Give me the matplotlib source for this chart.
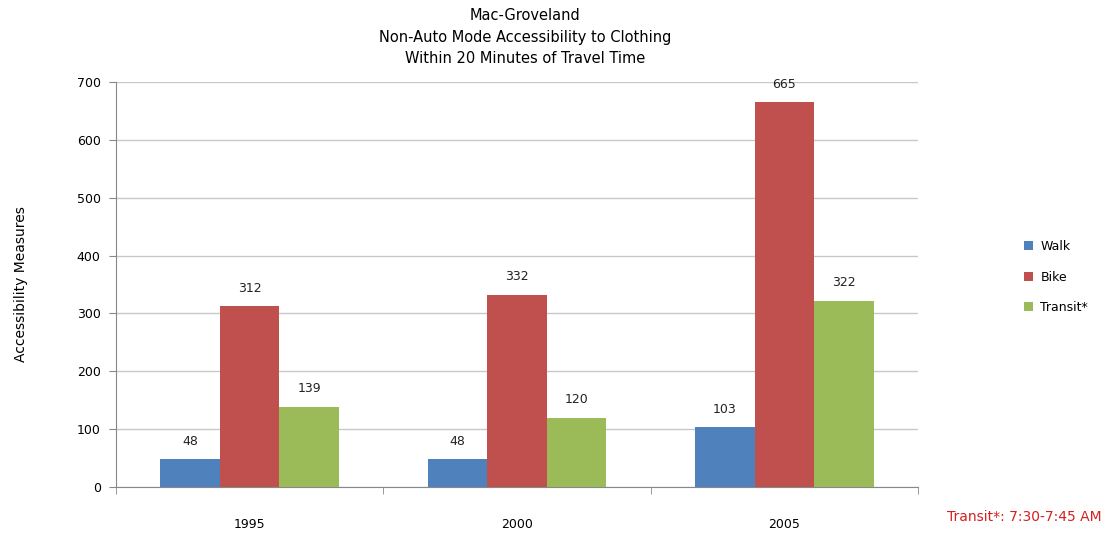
import numpy as np
import matplotlib.pyplot as plt

years = ["1995", "2000", "2005"]
walk = [48, 48, 103]
bike = [312, 332, 665]
transit = [139, 120, 322]

series = [("Walk", walk, "#4F81BD"), ("Bike", bike, "#C0504D"), ("Transit*", transit, "#9BBB59")]

fig = plt.figure(figsize=(11.07, 5.33), dpi=100)
ax = fig.add_axes([0.1048, 0.0863, 0.7245, 0.7598])

x = np.arange(len(years))
w = 0.223
for i, (name, vals, col) in enumerate(series):
    pos = x + (i - 1) * w
    ax.bar(pos, vals, w, color=col, label=name, zorder=3)
    for p, v in zip(pos, vals):
        ax.text(p, v + 20, str(v), ha="center", va="bottom", fontsize=9, color="#222222")

ax.set_xlim(-0.5, 2.5)
ax.set_ylim(0, 700)
ax.set_yticks(range(0, 701, 100))
ax.yaxis.grid(True, color="#c8c8c8", linewidth=1, zorder=0)
ax.set_xticks(x)
ax.set_xticklabels(years, fontsize=9)
ax.set_xticks([-0.5, 0.5, 1.5, 2.5], minor=True)
ax.tick_params(axis="x", which="major", length=0, pad=22)
ax.tick_params(axis="x", which="minor", length=5, color="#888888")
ax.tick_params(axis="y", labelsize=9, length=5, color="#888888", pad=6)
for s in ["top", "right"]:
    ax.spines[s].set_visible(False)
ax.spines["left"].set_color("#888888")
ax.spines["bottom"].set_color("#888888")
ax.set_ylabel("Accessibility Measures", fontsize=10, labelpad=35)

fig.text(0.474, 0.985, "Mac-Groveland\nNon-Auto Mode Accessibility to Clothing\nWithin 20 Minutes of Travel Time",
         ha="center", va="top", fontsize=10.5, linespacing=1.55)

fig.legend(loc="center left", bbox_to_anchor=(0.915, 0.48), frameon=False, fontsize=9,
           handlelength=0.7, handleheight=0.7, labelspacing=1.4, handletextpad=0.6)

fig.text(0.995, 0.03, "Transit*: 7:30-7:45 AM", ha="right", va="center", fontsize=10, color="#d42020")

fig.savefig("out.png", dpi=100)
